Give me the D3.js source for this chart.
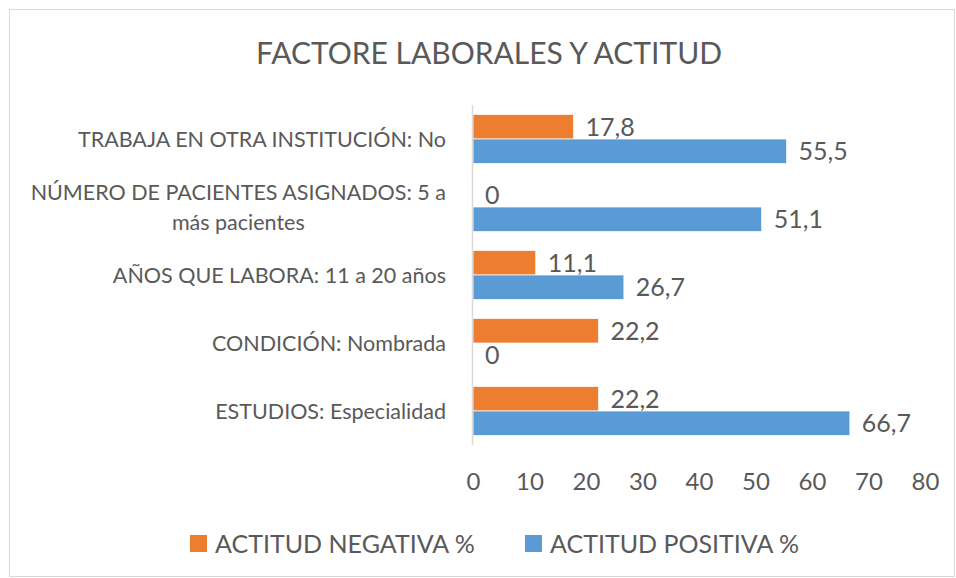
<!DOCTYPE html>
<html><head><meta charset="utf-8">
<script src="https://cdn.jsdelivr.net/npm/d3@7"></script>
<style>body{margin:0;background:#fff}svg{display:block}text{font-family:Lato,"Open Sans",sans-serif;fill:#595959}</style>
</head><body>
<svg id="c" width="956" height="578"></svg>
<script>
const categories = [
  "TRABAJA EN OTRA INSTITUCIÓN: No",
  "NÚMERO DE PACIENTES ASIGNADOS: 5 a|más pacientes",
  "AÑOS QUE LABORA: 11 a 20 años",
  "CONDICIÓN: Nombrada",
  "ESTUDIOS: Especialidad"
];
const negativa = [17.8, 0, 11.1, 22.2, 22.2];
const positiva = [55.5, 51.1, 26.7, 0, 66.7];
const seriesNames = ["ACTITUD NEGATIVA %", "ACTITUD POSITIVA %"];
const colors = ["#ED7D31", "#5B9BD5"];
const ticks = [0,10,20,30,40,50,60,70,80];
const title = "FACTORE LABORALES Y ACTITUD";

const svg = d3.select("#c");
svg.append("rect").attr("x",9.5).attr("y",9.5).attr("width",945).attr("height",567)
  .attr("fill","#fff").attr("stroke","#d9d9d9");

svg.append("text").attr("x",489).attr("y",64).attr("text-anchor","middle")
  .style("font-size","30px").text(title);

const x = d3.scaleLinear().domain([0,80]).range([473,925]);
const y = d3.scaleBand().domain(categories).range([105,445]).paddingInner(0.28).paddingOuter(0.14);
const ys = d3.scaleBand().domain([0,1]).range([0,y.bandwidth()]);

const series = [negativa, positiva];
const g = svg.append("g");
series.forEach((vals, si) => {
  g.selectAll(null).data(vals).enter().append("rect")
    .attr("x", x(0))
    .attr("y", (d,i) => y(categories[i]) + ys(si))
    .attr("width", d => x(d) - x(0))
    .attr("height", ys.bandwidth())
    .attr("fill", colors[si])
    .attr("stroke", d => d > 0 ? "#fff" : "none").attr("stroke-width", 0.7);
  g.selectAll(null).data(vals).enter().append("text")
    .attr("x", d => x(d) + 12)
    .attr("y", (d,i) => y(categories[i]) + ys(si) + ys.bandwidth()/2)
    .attr("dy","0.36em")
    .style("font-size","25px")
    .text(d => String(d).replace(".", ","));
});

// category axis
svg.append("line").attr("x1",472.5).attr("x2",472.5).attr("y1",105).attr("y2",445)
  .attr("stroke","#d9d9d9").attr("stroke-width",1.5);
const catFont = "21.5px";
categories.forEach(c => {
  const lines = c.split("|");
  const cy = y(c) + y.bandwidth()/2;
  if (lines.length === 1) {
    svg.append("text").attr("x",446).attr("y",cy).attr("dy","0.36em")
      .attr("text-anchor","end").style("font-size",catFont).text(lines[0]);
  } else {
    const t = svg.append("text").attr("text-anchor","middle").style("font-size",catFont);
    const tmp = svg.append("text").style("font-size",catFont).text(lines[0]);
    const w = tmp.node().getComputedTextLength(); tmp.remove();
    const cx = 446 - w/2;
    lines.forEach((l,i) => {
      t.append("tspan").attr("x",cx).attr("y",cy + (i - (lines.length-1)/2)*30).attr("dy","0.36em").text(l);
    });
  }
});

// x axis
const xa = svg.append("g").attr("transform","translate(0,445)")
  .call(d3.axisBottom(x).tickValues(ticks).tickSize(0).tickPadding(28));
xa.select(".domain").remove();
xa.selectAll("text").style("font-size","24px").attr("fill","#595959")
  .style("font-family","Lato, 'Open Sans', sans-serif");

// legend
const leg = svg.append("g");
const legX = [190, 525];
seriesNames.forEach((n,i) => {
  leg.append("rect").attr("x",legX[i]).attr("y",535).attr("width",17).attr("height",17).attr("fill",colors[i]);
  leg.append("text").attr("x",legX[i]+25).attr("y",544).attr("dy","0.36em").style("font-size","25px").text(n);
});
</script>
</body></html>
